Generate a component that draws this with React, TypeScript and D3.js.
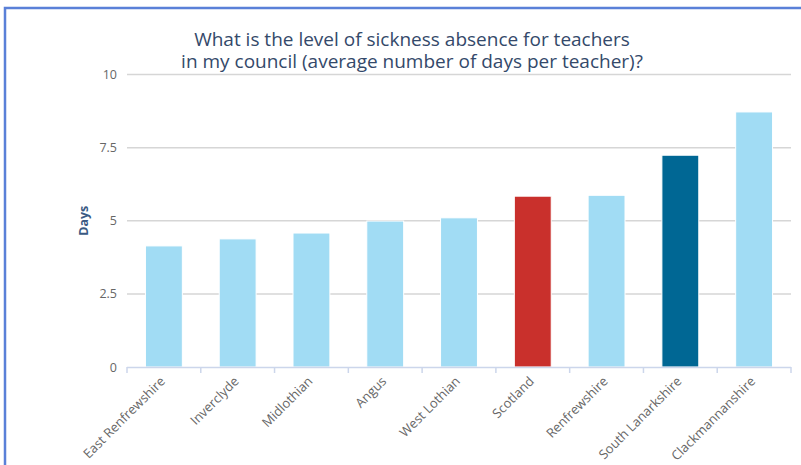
import React, { useEffect, useRef } from 'react'
import * as d3 from 'd3'

const councils = [
  'East Renfrewshire',
  'Inverclyde',
  'Midlothian',
  'Angus',
  'West Lothian',
  'Scotland',
  'Renfrewshire',
  'South Lanarkshire',
  'Clackmannanshire',
]
const days = [4.14, 4.38, 4.58, 4.99, 5.1, 5.84, 5.87, 7.24, 8.72]
const barColours = ['#a1dcf4', '#a1dcf4', '#a1dcf4', '#a1dcf4', '#a1dcf4', '#c9302c', '#a1dcf4', '#006794', '#a1dcf4']
const yTicks = [0, 2.5, 5, 7.5, 10]
const titleLines = [
  'What is the level of sickness absence for teachers',
  'in my council (average number of days per teacher)?',
]

const W = 801
const H = 465
const FONT = '"Open Sans", "Noto Sans", sans-serif'

const App = () => {
  const ref = useRef<SVGSVGElement>(null)

  useEffect(() => {
    const svg = d3.select(ref.current)
    svg.selectAll('*').remove()

    const left = 127
    const right = 791
    const top = 74.5
    const bottom = 367

    const x = d3.scaleBand().domain(councils).range([left, right]).paddingInner(0.5).paddingOuter(0.25)
    const xEdges = d3.scaleBand().domain(councils).range([left, right])
    const y = d3.scaleLinear().domain([0, 10]).range([bottom, top])

    // frame
    svg
      .append('rect')
      .attr('x', 5)
      .attr('y', 8)
      .attr('width', W + 20)
      .attr('height', H + 20)
      .attr('fill', 'none')
      .attr('stroke', '#5a80d8')
      .attr('stroke-width', 2.5)

    // title, one text per line
    svg
      .selectAll('text.title')
      .data(titleLines)
      .enter()
      .append('text')
      .attr('class', 'title')
      .attr('x', 412)
      .attr('y', (d, i) => 46 + i * 22)
      .attr('text-anchor', 'middle')
      .style('font-family', FONT)
      .style('font-size', '19px')
      .style('fill', '#34496a')
      .text(d => d)

    // grid + y labels
    const grid = svg.append('g')
    grid
      .selectAll('line')
      .data(yTicks.filter(t => t > 0))
      .enter()
      .append('line')
      .attr('x1', left)
      .attr('x2', right)
      .attr('y1', d => y(d))
      .attr('y2', d => y(d))
      .attr('stroke', '#d6d6d6')
      .attr('stroke-width', 1.5)

    grid
      .selectAll('text')
      .data(yTicks)
      .enter()
      .append('text')
      .attr('x', 117)
      .attr('y', d => y(d) + 4.5)
      .attr('text-anchor', 'end')
      .style('font-family', FONT)
      .style('font-size', '12.5px')
      .style('fill', '#666666')
      .text(d => String(d))

    // y axis title
    svg
      .append('text')
      .attr('transform', `translate(88, ${(top + bottom) / 2}) rotate(-90)`)
      .attr('text-anchor', 'middle')
      .style('font-family', FONT)
      .style('font-size', '12.5px')
      .style('font-weight', 'bold')
      .style('fill', '#3a5a84')
      .text('Days')

    // bars
    svg
      .selectAll('rect.bar')
      .data(days)
      .enter()
      .append('rect')
      .attr('class', 'bar')
      .attr('x', (d, i) => x(councils[i]))
      .attr('y', d => y(d))
      .attr('width', x.bandwidth())
      .attr('height', d => bottom - y(d))
      .attr('fill', (d, i) => barColours[i])
      .attr('stroke', '#ffffff')
      .attr('stroke-width', 1)

    // x axis line + ticks
    svg
      .append('line')
      .attr('x1', left)
      .attr('x2', right)
      .attr('y1', bottom + 0.5)
      .attr('y2', bottom + 0.5)
      .attr('stroke', '#ccd6eb')
      .attr('stroke-width', 1.5)

    const edges = councils.map(c => xEdges(c) as number).concat([right])
    svg
      .selectAll('line.tick')
      .data(edges)
      .enter()
      .append('line')
      .attr('class', 'tick')
      .attr('x1', d => d)
      .attr('x2', d => d)
      .attr('y1', bottom)
      .attr('y2', bottom + 6)
      .attr('stroke', '#ccd6eb')
      .attr('stroke-width', 1.5)

    svg
      .selectAll('text.xlabel')
      .data(councils)
      .enter()
      .append('text')
      .attr('class', 'xlabel')
      .attr('transform', d => `translate(${(xEdges(d) as number) + xEdges.bandwidth() / 2 + 2}, 382) rotate(-45)`)
      .attr('text-anchor', 'end')
      .style('font-family', FONT)
      .style('font-size', '13px')
      .style('fill', '#666666')
      .text(d => d)
  }, [])

  return (
    <svg
      ref={ref}
      width={W}
      height={H}
      style={{ position: 'absolute', top: 0, left: 0, background: '#ffffff' }}
    ></svg>
  )
}

export default App
